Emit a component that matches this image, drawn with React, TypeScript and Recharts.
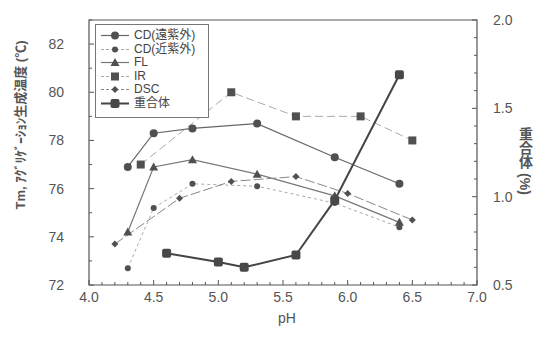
import React from 'react';
import {
  LineChart,
  Line,
  XAxis,
  YAxis,
  Legend,
  Label,
  ReferenceArea,
} from 'recharts';

// pH values and readings for each method
const phCdFar = [4.3, 4.5, 4.8, 5.3, 5.9, 6.4];
const tmCdFar = [76.9, 78.3, 78.5, 78.7, 77.3, 76.2];

const phCdNear = [4.3, 4.5, 4.8, 5.3, 5.9, 6.4];
const tmCdNear = [72.7, 75.2, 76.2, 76.1, 75.4, 74.4];

const phFl = [4.3, 4.5, 4.8, 5.3, 5.9, 6.4];
const tmFl = [74.2, 76.9, 77.2, 76.6, 75.7, 74.6];

const phIr = [4.4, 5.1, 5.6, 6.1, 6.5];
const tmIr = [77.0, 80.0, 79.0, 79.0, 78.0];

const phDsc = [4.2, 4.7, 5.1, 5.6, 6.0, 6.5];
const tmDsc = [73.7, 75.6, 76.3, 76.5, 75.8, 74.7];

const phPolymer = [4.6, 5.0, 5.2, 5.6, 5.9, 6.4];
const polymerPct = [0.68, 0.63, 0.6, 0.67, 0.98, 1.69];

// tick labels
const xLabels = [4.0, 4.5, 5.0, 5.5, 6.0, 6.5, 7.0];
const tempLabels = [72, 74, 76, 78, 80, 82];
const pctLabels = [0.5, 1.0, 1.5, 2.0];

const names = ['CD(遠紫外)', 'CD(近紫外)', 'FL', 'IR', 'DSC', '重合体'];

const toPoints = (xs: number[], ys: number[]) => xs.map((x, i) => ({ x, y: ys[i] }));

const steps = (from: number, to: number, step: number) => {
  const out: number[] = [];
  const n = Math.round((to - from) / step);
  for (let i = 0; i <= n; i++) out.push(Math.round((from + i * step) * 100) / 100);
  return out;
};

const isLabel = (v: number, labels: number[]) => labels.some((l) => Math.abs(l - v) < 1e-6);

const NUM_FONT = '"Liberation Sans", Arial, sans-serif';
const JP_FONT = '"Liberation Sans", "Noto Sans CJK JP", sans-serif';
const AX = '#555';

// marker shapes
type Shape = (cx: number, cy: number, key?: string) => JSX.Element;
const bigDot: Shape = (cx, cy, key) => <circle key={key} cx={cx} cy={cy} r={4} fill="#505050" />;
const smallDot: Shape = (cx, cy, key) => <circle key={key} cx={cx} cy={cy} r={3} fill="#505050" />;
const triangle: Shape = (cx, cy, key) => (
  <path key={key} d={`M${cx},${cy - 4.5}L${cx + 4.5},${cy + 3.5}L${cx - 4.5},${cy + 3.5}Z`} fill="#505050" />
);
const square: Shape = (cx, cy, key) => (
  <rect key={key} x={cx - 4} y={cy - 4} width={8} height={8} fill="#505050" />
);
const diamond: Shape = (cx, cy, key) => (
  <path key={key} d={`M${cx},${cy - 3.5}L${cx + 3.5},${cy}L${cx},${cy + 3.5}L${cx - 3.5},${cy}Z`} fill="#505050" />
);
const roundSquare: Shape = (cx, cy, key) => (
  <rect key={key} x={cx - 4.5} y={cy - 4.5} width={9} height={9} rx={2} fill="#484848" />
);

const series = [
  { name: names[0], data: toPoints(phCdFar, tmCdFar), stroke: '#666', width: 1.2, dash: undefined, shape: bigDot, axis: 'left' },
  { name: names[1], data: toPoints(phCdNear, tmCdNear), stroke: '#aaa', width: 1, dash: '3 3', shape: smallDot, axis: 'left' },
  { name: names[2], data: toPoints(phFl, tmFl), stroke: '#777', width: 1.2, dash: undefined, shape: triangle, axis: 'left' },
  { name: names[3], data: toPoints(phIr, tmIr), stroke: '#aaa', width: 1, dash: '8 4', shape: square, axis: 'left' },
  { name: names[4], data: toPoints(phDsc, tmDsc), stroke: '#888', width: 1, dash: '10 3', shape: diamond, axis: 'left' },
  { name: names[5], data: toPoints(phPolymer, polymerPct), stroke: '#444', width: 2, dash: undefined, shape: roundSquare, axis: 'right' },
];

const XTick = (props: any) => {
  const { x, y, payload } = props;
  const major = isLabel(payload.value, xLabels);
  return (
    <g>
      <line x1={x} x2={x} y1={y} y2={y - (major ? 5 : 3)} stroke={AX} />
      {major && (
        <text x={x} y={y + 17} textAnchor="middle" fontSize={14} fill="#555" fontFamily={NUM_FONT}>
          {payload.value.toFixed(1)}
        </text>
      )}
    </g>
  );
};

const LeftTick = (props: any) => {
  const { x, y, payload } = props;
  const major = isLabel(payload.value, tempLabels);
  return (
    <g>
      <line x1={x} x2={x + (major ? 5 : 3)} y1={y} y2={y} stroke={AX} />
      {major && (
        <text x={x - 25} y={y + 5} textAnchor="end" fontSize={14} fill="#555" fontFamily={NUM_FONT}>
          {payload.value}
        </text>
      )}
    </g>
  );
};

const RightTick = (props: any) => {
  const { x, y, payload } = props;
  const major = isLabel(payload.value, pctLabels);
  return (
    <g>
      <line x1={x} x2={x - (major ? 5 : 3)} y1={y} y2={y} stroke={AX} />
      {major && (
        <text x={x + 16} y={y + 5} textAnchor="start" fontSize={14} fill="#555" fontFamily={NUM_FONT}>
          {payload.value.toFixed(1)}
        </text>
      )}
    </g>
  );
};

const LegendBox = () => (
  <div
    style={{
      border: '1px solid #777',
      background: '#fff',
      padding: '4px 0 7px 4px',
      width: 108,
      fontFamily: JP_FONT,
      fontSize: 12,
      color: '#444',
      lineHeight: '13px',
    }}
  >
    {series.map((s) => (
      <div key={s.name} style={{ display: 'flex', alignItems: 'center', height: 13.5 }}>
        <svg width={30} height={11} style={{ marginRight: 4 }}>
          <line x1={1} x2={29} y1={5.5} y2={5.5} stroke={s.stroke} strokeWidth={s.width} strokeDasharray={s.dash ? '3 2' : undefined} />
          {s.shape(15, 5.5)}
        </svg>
        <span>{s.name}</span>
      </div>
    ))}
  </div>
);

export default function App() {
  return (
    <LineChart width={537} height={341} margin={{ top: 12, right: 0, bottom: 0, left: 0 }}>
      <XAxis
        dataKey="x"
        type="number"
        domain={[4, 7]}
        ticks={steps(4, 7, 0.1)}
        interval={0}
        allowDataOverflow
        axisLine={false}
        tickLine={false}
        tickSize={0}
        tickMargin={0}
        tick={<XTick />}
        height={64}
      >
        <Label
          content={(p: any) => (
            <text
              x={p.viewBox.x + p.viewBox.width / 2 + 4}
              y={p.viewBox.y + 38}
              textAnchor="middle"
              fontSize={14}
              fill="#555"
              fontFamily={NUM_FONT}
            >
              pH
            </text>
          )}
        />
      </XAxis>
      <YAxis
        yAxisId="left"
        type="number"
        domain={[72, 83]}
        ticks={steps(72, 83, 1)}
        interval={0}
        allowDataOverflow
        axisLine={false}
        tickLine={false}
        tickSize={0}
        tickMargin={0}
        tick={<LeftTick />}
        width={81}
      >
        <Label
          content={(p: any) => {
            const lx = p.viewBox.x + 12;
            const ly = p.viewBox.y + 105;
            return (
              <text
                x={lx}
                y={ly}
                transform={`rotate(-90, ${lx}, ${ly})`}
                textAnchor="middle"
                dominantBaseline="central"
                fontSize={13}
                fontWeight="bold"
                fill="#555"
                fontFamily={JP_FONT}
              >
                Tm, ｱｸﾞﾘｹﾞｰｼｮﾝ生成温度 (℃)
              </text>
            );
          }}
        />
      </YAxis>
      <YAxis
        yAxisId="right"
        orientation="right"
        type="number"
        domain={[0.5, 2.0]}
        ticks={steps(0.5, 2.0, 0.1)}
        interval={0}
        allowDataOverflow
        axisLine={false}
        tickLine={false}
        tickSize={0}
        tickMargin={0}
        tick={<RightTick />}
        width={68}
      >
        <Label
          content={(p: any) => (
            <text
              x={p.viewBox.x + 48}
              y={p.viewBox.y + 141}
              textAnchor="middle"
              fontSize={14}
              fontWeight="bold"
              fill="#555"
              fontFamily={JP_FONT}
              style={{ writingMode: 'vertical-rl' }}
            >
              重合体 (%)
            </text>
          )}
        />
      </YAxis>
      <ReferenceArea yAxisId="left" x1={4} x2={7} y1={72} y2={83} fill="none" stroke={AX} strokeWidth={1.2} ifOverflow="visible" />
      {series.map((s) => (
        <Line
          key={s.name}
          name={s.name}
          data={s.data}
          dataKey="y"
          yAxisId={s.axis}
          type="linear"
          stroke={s.stroke}
          strokeWidth={s.width}
          strokeDasharray={s.dash}
          dot={(p: any) => s.shape(p.cx, p.cy, `${s.name}-${p.index}`)}
          activeDot={false}
          isAnimationActive={false}
        />
      ))}
      <Legend
        layout="vertical"
        align="center"
        verticalAlign="middle"
        content={<LegendBox />}
        wrapperStyle={{ left: 87, top: 16, width: 114, height: 'auto' }}
      />
    </LineChart>
  );
}
